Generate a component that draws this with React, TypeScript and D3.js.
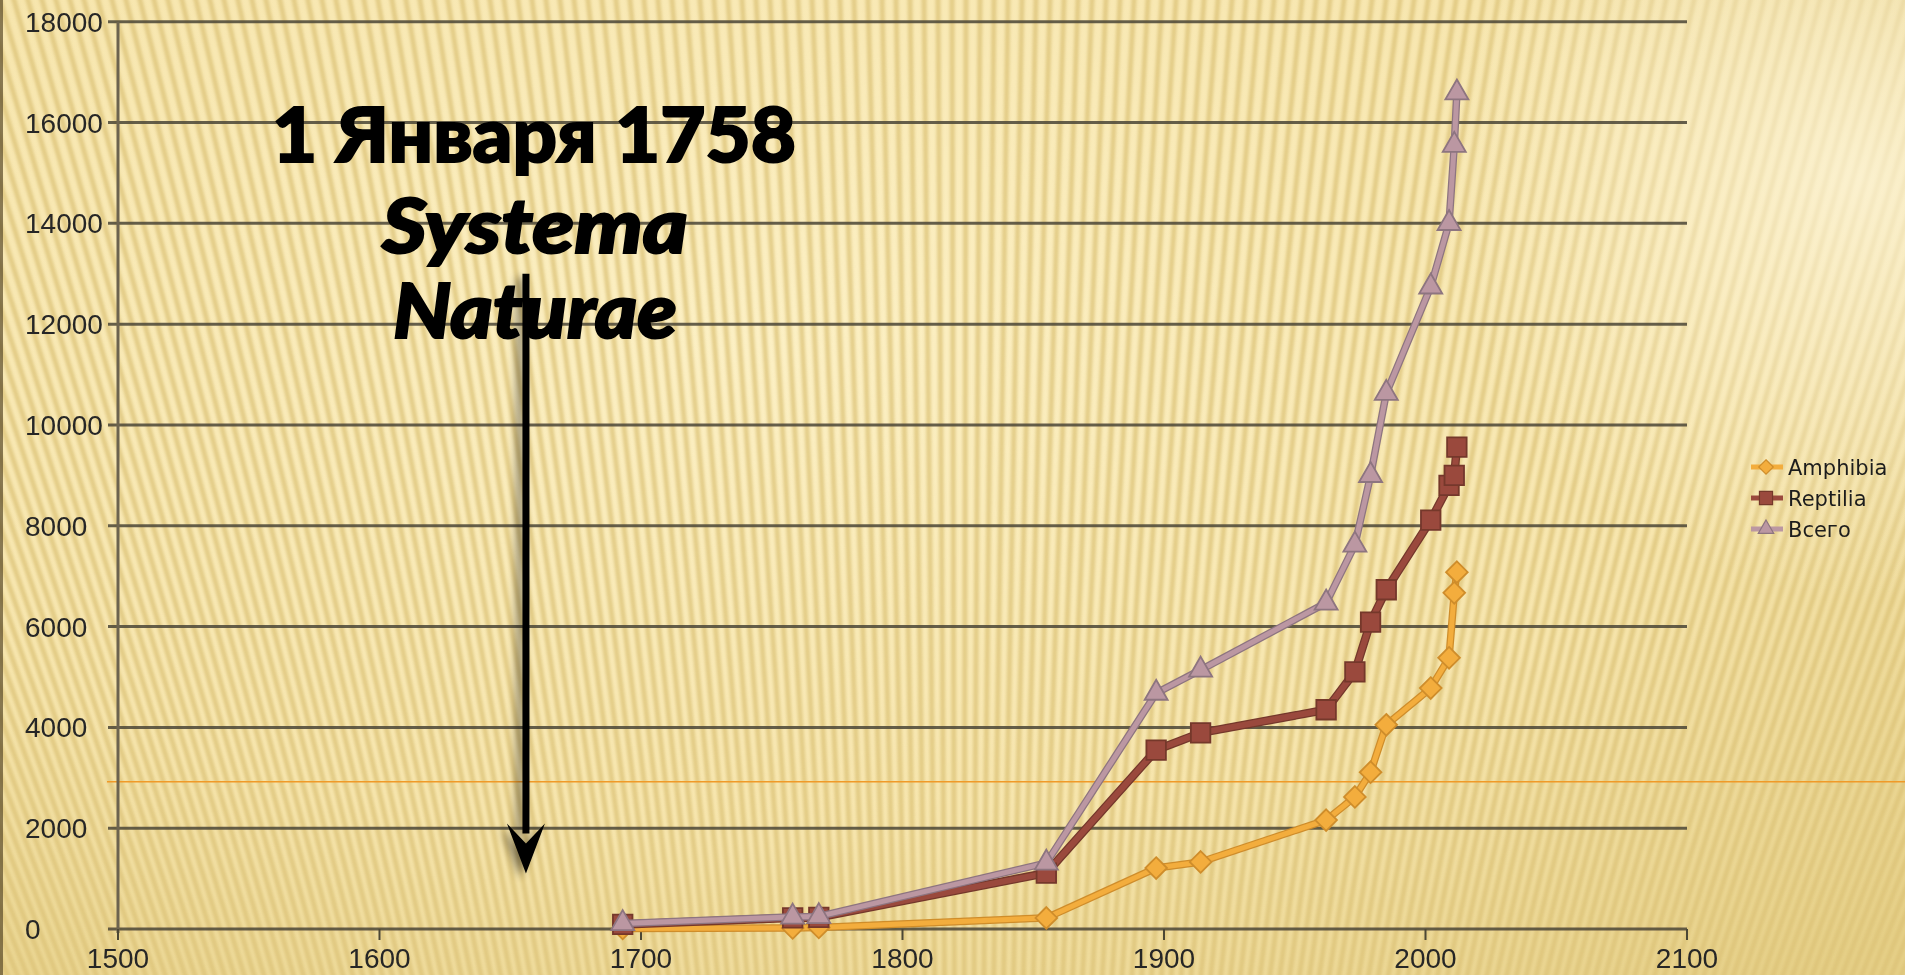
import * as d3 from "d3";

// years of the counts (shared by all three series)
const years = [1693, 1758, 1768, 1855, 1897, 1914, 1962, 1973, 1979, 1985, 2002, 2009, 2011, 2012];
const amphibia = [10, 20, 30, 220, 1210, 1330, 2160, 2620, 3110, 4050, 4780, 5380, 6670, 7080];
const reptilia = [90, 220, 230, 1110, 3550, 3890, 4350, 5100, 6090, 6730, 8110, 8800, 9000, 9560];
const vsego = [110, 240, 250, 1310, 4680, 5140, 6470, 7620, 9000, 10630, 12740, 14000, 15550, 16590];

const xTicks = [1500, 1600, 1700, 1800, 1900, 2000, 2100];
const yTicks = [0, 2000, 4000, 6000, 8000, 10000, 12000, 14000, 16000, 18000];

const titleLines = ["1 Января 1758", "Systema", "Naturae"];
const arrowYear = 1656;
const arrowFrom = 13000;
const arrowTo = 1100;
const orangeLineValue = 2920;

const W = 1905;
const H = 975;

type Series = {
  name: string;
  values: number[];
  color: string;
  edge: string;
  width: number;
  symbol: d3.SymbolType;
  size: number;
};

const diamond = (d3 as any).symbolDiamond2 || d3.symbolDiamond;

const series: Series[] = [
  { name: "Amphibia", values: amphibia, color: "#f3ad3c", edge: "#cf8d2c", width: 5, symbol: diamond, size: 300 },
  { name: "Reptilia", values: reptilia, color: "#9a4a3c", edge: "#74372c", width: 6, symbol: d3.symbolSquare, size: 380 },
  { name: "Всего", values: vsego, color: "#bb97a2", edge: "#8d7480", width: 5, symbol: d3.symbolTriangle, size: 230 },
];

const App = () => {
  const x = d3.scaleLinear().domain([1500, 2100]).range([118, 1687]);
  const y = d3.scaleLinear().domain([0, 18000]).range([929, 21.7]);

  const line = d3
    .line<[number, number]>()
    .x((d) => x(d[0]))
    .y((d) => y(d[1]));

  // background rays converging far below the slide
  const cx = 960;
  const cy = 3300;
  const rays = d3.range(-1400, 3300, 14).map((px) => {
    const k = 1.2;
    return { x2: cx + (px - cx) * k, y2: cy - cy * k };
  });

  const ax = x(arrowYear);
  const aTop = y(arrowFrom);
  const aTip = y(arrowTo);

  return (
    <svg
      width={W}
      height={H}
      style={{ position: "absolute", left: 0, top: 0, display: "block" }}
    >
      <defs>
        <radialGradient id="bg" cx="0.4" cy="0.35" r="0.85">
          <stop offset="0%" stopColor="#fcf0c4" />
          <stop offset="60%" stopColor="#f7e6ae" />
          <stop offset="100%" stopColor="#e6d088" />
        </radialGradient>
        <radialGradient id="sun" cx="0.5" cy="0.5" r="0.5">
          <stop offset="0%" stopColor="#fff8e0" stopOpacity={0.7} />
          <stop offset="100%" stopColor="#fff8e0" stopOpacity={0} />
        </radialGradient>
        <filter id="soft" x="-5%" y="-5%" width="110%" height="110%">
          <feGaussianBlur stdDeviation="1.6" />
        </filter>
        <filter id="blur1">
          <feGaussianBlur stdDeviation="0.7" />
        </filter>
        <filter id="shadow" x="-50%" y="-10%" width="200%" height="120%">
          <feGaussianBlur in="SourceAlpha" stdDeviation="4" />
          <feOffset dx="-6" dy="4" result="b" />
          <feComponentTransfer>
            <feFuncA type="linear" slope="0.45" />
          </feComponentTransfer>
          <feMerge>
            <feMergeNode />
            <feMergeNode in="SourceGraphic" />
          </feMerge>
        </filter>
      </defs>

      <rect width={W} height={H} fill="url(#bg)" />
      <g filter="url(#soft)" opacity={0.75}>
        {rays.map((r, i) => (
          <line key={i} x1={cx} y1={cy} x2={r.x2} y2={r.y2} stroke="#dcc277" strokeWidth={5} />
        ))}
      </g>
      <circle cx={1860} cy={180} r={420} fill="url(#sun)" />
      <rect x={0} y={0} width={3} height={H} fill="#5a4a2a" opacity={0.7} />

      {/* orange annotation line */}
      <line x1={107} x2={W} y1={y(orangeLineValue)} y2={y(orangeLineValue)} stroke="#f09a28" strokeWidth={1.6} />

      <g filter="url(#blur1)">
        {yTicks.map((t) => (
          <line key={t} x1={108} x2={x(2100)} y1={y(t)} y2={y(t)} stroke="#4c4636" strokeWidth={3} opacity={0.85} />
        ))}
        <line x1={x(1500)} x2={x(1500)} y1={y(18000)} y2={y(0) + 4} stroke="#6c6450" strokeWidth={3} />
        {xTicks.map((t) => (
          <line key={t} x1={x(t)} x2={x(t)} y1={y(0)} y2={y(0) + 11} stroke="#4c4636" strokeWidth={2} />
        ))}
        {yTicks.map((t) => (
          <text
            key={t}
            x={25}
            y={y(t)}
            dy="0.36em"
            fontFamily="'Liberation Sans', Arial, sans-serif"
            fontSize={28}
            fill="#262626"
          >
            {t}
          </text>
        ))}
        {xTicks.map((t) => (
          <text
            key={t}
            x={x(t)}
            y={968}
            textAnchor="middle"
            fontFamily="'Liberation Sans', Arial, sans-serif"
            fontSize={28}
            fill="#262626"
          >
            {t}
          </text>
        ))}

        {series.map((s) => {
          const pts = years.map((yr, i) => [yr, s.values[i]] as [number, number]);
          const sym = d3.symbol().type(s.symbol).size(s.size)() || "";
          return (
            <g key={s.name}>
              <path d={line(pts) || ""} fill="none" stroke={s.edge} strokeWidth={s.width + 2.5} strokeLinejoin="round" />
              <path d={line(pts) || ""} fill="none" stroke={s.color} strokeWidth={s.width} strokeLinejoin="round" />
              {pts.map((p, i) => (
                <path
                  key={i}
                  d={sym}
                  transform={`translate(${x(p[0])},${y(p[1])})`}
                  fill={s.color}
                  stroke={s.edge}
                  strokeWidth={1.8}
                />
              ))}
            </g>
          );
        })}

        {/* legend */}
        {series.map((s, i) => {
          const ly = 467 + i * 31;
          const sym = d3.symbol().type(s.symbol).size(s.size * 0.45)() || "";
          return (
            <g key={s.name}>
              <line x1={1751} x2={1783} y1={ly} y2={ly} stroke={s.color} strokeWidth={5} />
              <path d={sym} transform={`translate(1766,${ly})`} fill={s.color} stroke={s.edge} strokeWidth={1.2} />
              <text
                x={1788}
                y={ly}
                dy="0.36em"
                fontFamily="'DejaVu Sans', sans-serif"
                fontSize={21}
                fill="#1e1e1e"
              >
                {s.name}
              </text>
            </g>
          );
        })}
      </g>

      {/* arrow to Systema Naturae */}
      <g filter="url(#shadow)">
        <line x1={ax} x2={ax} y1={aTop} y2={aTip - 40} stroke="#000" strokeWidth={7} />
        <path
          d={`M${ax},${aTip} L${ax - 19},${aTip - 50} L${ax},${aTip - 30} L${ax + 19},${aTip - 50} Z`}
          fill="#000"
        />
      </g>

      <g
        fontFamily="Lato, 'Open Sans', sans-serif"
        fontWeight={900}
        fill="#000"
        stroke="#000"
        strokeWidth={2}
        textAnchor="middle"
      >
        <text x={534} y={162} fontSize={76} textLength={524} lengthAdjust="spacingAndGlyphs">
          {titleLines[0]}
        </text>
        <text x={535} y={253} fontSize={76} fontStyle="italic" textLength={306} lengthAdjust="spacingAndGlyphs">
          {titleLines[1]}
        </text>
        <text x={535} y={338} fontSize={76} fontStyle="italic" textLength={284} lengthAdjust="spacingAndGlyphs">
          {titleLines[2]}
        </text>
      </g>
    </svg>
  );
};

export default App;
